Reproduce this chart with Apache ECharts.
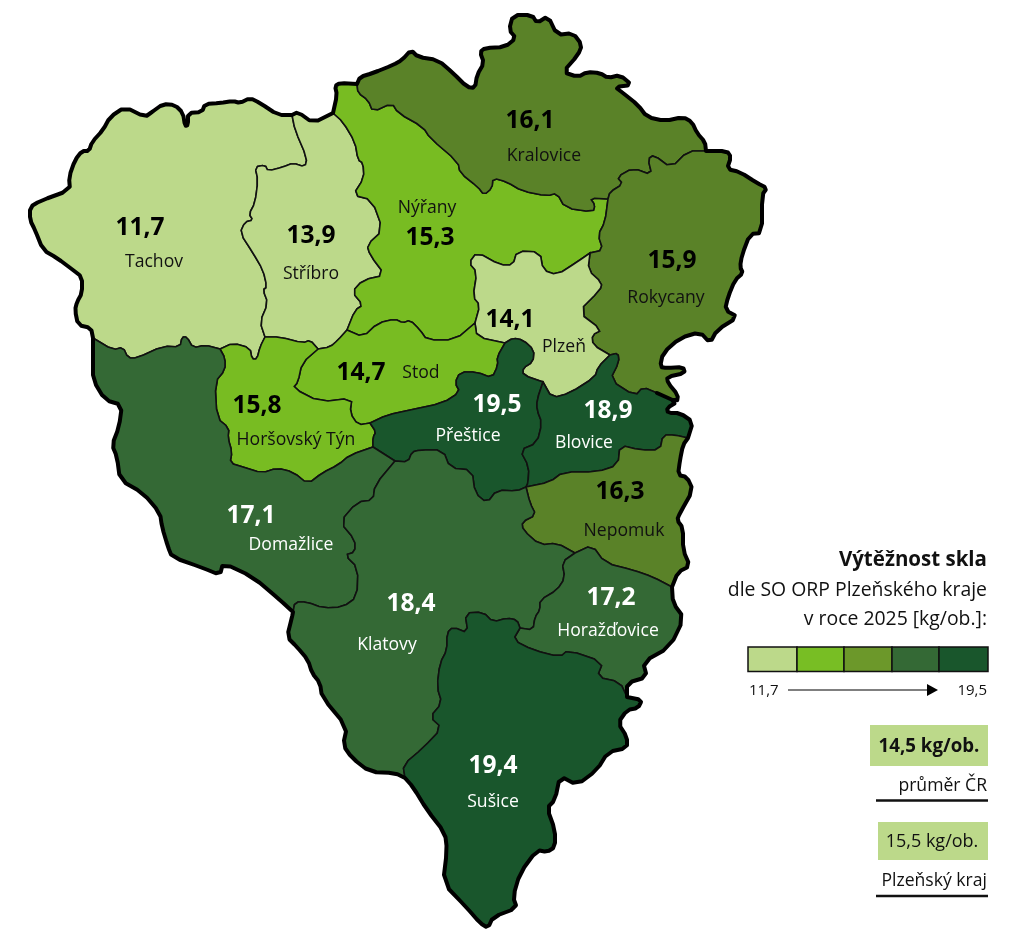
<!DOCTYPE html>
<html><head><meta charset="utf-8">
<style>html,body{margin:0;padding:0;background:#fff}#c{width:1024px;height:935px}</style>
<script src="https://cdn.jsdelivr.net/npm/echarts@6/dist/echarts.min.js"></script>
</head><body><div id="c"></div>
<script>
const regionNames = ['Tachov','Stříbro','Nýřany','Kralovice','Rokycany','Plzeň','Stod','Horšovský Týn','Přeštice','Blovice','Nepomuk','Domažlice','Klatovy','Horažďovice','Sušice'];
const regionValues = [11.7,13.9,15.3,16.1,15.9,14.1,14.7,15.8,19.5,18.9,16.3,17.1,18.4,17.2,19.4];
const legendColors = ['#BCD98A','#78BE24','#6C982A','#346935','#19562C'];
const mapColors = {light:'#BCD98A',bright:'#78BC22',olive:'#5A8228',mid:'#346935',dark:'#19562C'};
const titleLines = ['Výtěžnost skla','dle SO ORP Plzeňského kraje','v roce 2025 [kg/ob.]:'];
const scaleEnds = ['11,7','19,5'];
const refValues = ['14,5 kg/ob.','15,5 kg/ob.'];
const refNames = ['průměr ČR','Plzeňský kraj'];

// Label anchors (map coordinates)
const valueAnchors = [[140,228],[311,236],[430,238],[530,121],[672,261],[510,320],[361,373],[257,406],[497,405],[608,411],[620,492],[251,516],[411,604],[611,598],[493,766]];
const nameAnchors = [[154,262],[311,274],[427,208],[544,156],[666,298],[564,347],[421,373],[296,440],[468,436],[584,443],[624,531],[291,545],[387,645],[608,631],[493,802]];

const A = {
 oTach:[[93,338],[91,328],[78,325],[75,310],[77,302],[82,293],[82,277],[73,270],[57,258],[43,250],[35,230],[30,220],[30,207],[40,201],[70,190],[69,177],[75,160],[82,151],[89,151],[92,142],[103,130],[110,117],[125,107],[145,117],[152,112],[163,104],[175,105],[183,113],[185,126],[188,125],[188,113],[202,112],[205,104],[220,103],[233,101],[240,103],[250,98],[260,103],[278,115],[292,115]],
 oStr:[[292,115],[298,112],[313,123],[333,113]],
 oNyr:[[333,113],[337,95],[335,86],[340,83],[357,84]],
 oKra:[[357,84],[360,77],[373,73],[393,65],[402,60],[411,50],[418,57],[438,60],[453,73],[467,87],[475,88],[477,75],[484,63],[480,52],[485,48],[505,47],[516,38],[509,30],[513,15],[532,15],[537,23],[548,16],[557,35],[573,33],[582,45],[578,55],[563,72],[578,77],[587,72],[600,73],[608,78],[620,75],[632,85],[615,87],[623,93],[638,105],[647,117],[665,121],[683,117],[692,122],[697,133],[705,142],[706,151]],
 oRok:[[706,151],[727,151],[731,157],[727,169],[740,172],[757,183],[767,188],[762,195],[762,233],[750,234],[742,255],[740,267],[743,273],[735,280],[728,297],[725,310],[738,317],[717,330],[710,343],[700,332],[680,338],[663,353],[660,367],[667,368],[683,367],[685,373],[667,377],[668,383],[678,395],[677,402],[657,393]],
 oBlo:[[657,393],[677,402],[667,408],[668,413],[680,413],[693,422],[688,438]],
 oNep:[[688,438],[683,445],[680,460],[678,475],[687,477],[693,490],[680,513],[677,520],[683,528],[683,550],[690,566],[678,572],[672,587]],
 oHor:[[672,587],[673,603],[684,618],[670,647],[643,662],[647,677],[627,683],[627,697]],
 oSus:[[627,697],[642,700],[638,708],[627,710],[618,723],[627,737],[627,748],[608,752],[597,770],[577,785],[560,776],[555,800],[547,808],[555,830],[555,847],[547,852],[537,850],[520,873],[513,897],[517,908],[493,917],[488,928],[480,923],[467,908],[443,883],[447,850],[445,833],[427,810],[413,787],[405,778]],
 oKla:[[405,778],[395,773],[370,772],[352,758],[343,745],[347,727],[322,697],[320,683],[312,673],[308,660],[297,647],[287,637],[292,617],[293,612]],
 oDom:[[293,612],[280,600],[253,577],[223,563],[220,575],[203,568],[172,557],[168,547],[162,527],[160,513],[143,493],[120,480],[117,457],[112,445],[119,427],[122,405],[105,400],[93,380],[93,360],[93,338]],
 tachStr:[[292,115],[295,130],[307,158],[305,167],[293,163],[283,167],[268,171],[265,165],[255,167],[258,180],[255,203],[249,214],[253,220],[245,222],[240,233],[253,253],[263,270],[267,287],[263,290],[268,303],[260,322],[265,337]],
 tachHT:[[265,337],[260,347],[257,359],[252,359],[250,348],[233,343],[220,349]],
 tachDom:[[220,349],[205,345],[193,348],[187,337],[182,337],[180,347],[163,346],[137,358],[128,358],[123,347],[113,350],[93,338]],
 strNyr:[[333,113],[343,122],[355,142],[358,160],[363,163],[364,178],[353,195],[372,200],[383,230],[367,245],[370,255],[385,275],[363,280],[352,292],[363,305],[355,310],[347,330]],
 strStod:[[318,349],[330,347],[338,340],[347,330]],
 strHT:[[265,337],[280,337],[303,343],[310,340],[318,349]],
 nyrKra:[[357,84],[358,93],[368,100],[373,112],[392,103],[398,113],[423,127],[430,138],[458,162],[460,173],[478,187],[484,195],[492,188],[493,178],[507,182],[522,191],[547,196],[557,193],[565,208],[593,212],[595,205],[590,198],[608,199]],
 kraRok:[[608,199],[610,192],[623,184],[617,177],[633,168],[652,175],[648,159],[654,155],[671,168],[688,151],[706,151]],
 nyrRok:[[608,199],[605,222],[598,235],[603,250],[590,253]],
 nyrPlz:[[590,253],[577,262],[557,275],[543,270],[540,252],[517,251],[513,265],[500,265],[477,252],[469,263],[477,272],[473,297],[480,305],[475,323]],
 nyrStod:[[475,323],[455,340],[427,340],[420,330],[410,320],[403,323],[395,319],[378,323],[363,337],[347,330]],
 plzStod:[[475,323],[477,337],[505,343]],
 plzPre:[[505,343],[513,338],[523,340],[534,350],[533,362],[523,368],[523,375],[543,382]],
 plzBlo:[[543,382],[552,398],[570,393],[595,377],[598,367],[610,355]],
 plzRok:[[590,253],[588,270],[602,283],[600,290],[578,312],[602,330],[592,335],[593,345],[610,355]],
 rokBlo:[[610,355],[618,353],[619,362],[610,380],[635,396],[643,387],[657,393]],
 preStod:[[505,343],[497,357],[498,365],[492,378],[477,372],[460,372],[455,383],[460,392],[443,403],[410,410],[387,415],[370,423]],
 stodHT:[[318,349],[302,363],[298,382],[293,388],[320,402],[352,398],[350,413],[358,425],[370,423]],
 htPre:[[370,423],[376,432],[373,437],[373,447]],
 htDom:[[373,447],[350,455],[338,465],[322,473],[308,484],[293,472],[277,468],[262,473],[243,467],[230,463],[232,452],[228,438],[229,428],[217,418],[215,382],[225,370],[225,358],[220,349]],
 preDom:[[373,447],[395,461]],
 preKla:[[395,461],[408,462],[412,452],[420,450],[443,450],[450,468],[472,470],[475,493],[487,503],[497,490],[517,491],[526,487]],
 preBlo:[[543,382],[537,400],[537,410],[542,423],[537,443],[520,450],[529,467],[528,483],[526,487]],
 bloNep:[[526,487],[550,482],[563,472],[597,472],[618,465],[620,445],[640,450],[660,450],[663,435],[675,435],[688,438]],
 klaNep:[[526,487],[530,503],[536,515],[522,522],[523,530],[540,545],[557,543],[575,553]],
 nepHor:[[575,553],[592,545],[605,563],[633,570],[653,577],[672,587]],
 klaHor:[[575,553],[562,562],[565,578],[557,590],[540,600],[540,610],[535,617],[533,630],[520,628]],
 horSus:[[520,628],[513,640],[533,650],[560,657],[568,650],[603,662],[597,677],[620,682],[627,697]],
 klaSus:[[520,628],[517,620],[507,618],[493,622],[483,612],[465,613],[468,633],[453,627],[447,633],[447,650],[440,663],[437,687],[442,703],[430,717],[442,728],[423,748],[403,765],[405,778]],
 domKla:[[395,461],[375,485],[373,500],[357,502],[340,522],[355,540],[355,552],[345,555],[358,568],[357,597],[343,607],[323,608],[307,602],[295,602],[293,612]]
};
// Ring of each region: arc names, '-' = reversed
const rings = {
 'Tachov':['oTach','tachStr','tachHT','tachDom'],
 'Stříbro':['oStr','strNyr','-strStod','-strHT','-tachStr'],
 'Nýřany':['oNyr','nyrKra','nyrRok','nyrPlz','nyrStod','-strNyr'],
 'Kralovice':['oKra','-kraRok','-nyrKra'],
 'Rokycany':['oRok','-rokBlo','-plzRok','-nyrRok','kraRok'],
 'Plzeň':['plzRok','-plzBlo','-plzPre','-plzStod','-nyrPlz'],
 'Stod':['-nyrStod','plzStod','preStod','-stodHT','strStod'],
 'Horšovský Týn':['strHT','stodHT','htPre','htDom','-tachHT'],
 'Přeštice':['plzPre','preBlo','-preKla','-preDom','-htPre','-preStod'],
 'Blovice':['plzBlo','rokBlo','oBlo','-bloNep','-preBlo'],
 'Nepomuk':['bloNep','oNep','-nepHor','-klaNep'],
 'Domažlice':['-htDom','preDom','domKla','oDom','-tachDom'],
 'Klatovy':['preKla','klaNep','klaHor','klaSus','oKla','-domKla'],
 'Horažďovice':['nepHor','oHor','-horSus','-klaHor'],
 'Sušice':['horSus','oSus','-klaSus']
};
// Corner rounding of a border arc, end points stay shared
function round(p){
  const o=[p[0]];
  for(let i=0;i<p.length-1;i++){
    const a=p[i],b=p[i+1];
    if(i>0)o.push([a[0]*.75+b[0]*.25,a[1]*.75+b[1]*.25]);
    if(i<p.length-2)o.push([a[0]*.25+b[0]*.75,a[1]*.25+b[1]*.75]);
  }
  o.push(p[p.length-1]);return o;
}
const S={};Object.keys(A).forEach(k=>S[k]=round(A[k]).map(q=>[q[0],-q[1]]));
function ring(list){
  let r=[];
  list.forEach(n=>{
    const rev=n[0]==='-',pts=S[rev?n.slice(1):n];
    const seq=rev?pts.slice().reverse():pts;
    r=r.concat(r.length?seq.slice(1):seq);
  });
  if(r[0][0]!==r[r.length-1][0]||r[0][1]!==r[r.length-1][1])r.push(r[0]);
  return r;
}
const geojson={type:'FeatureCollection',features:regionNames.map(n=>({type:'Feature',properties:{name:n},geometry:{type:'Polygon',coordinates:[ring(rings[n])]}}))};
echarts.registerMap('orp',geojson);
const outline=ring(['oTach','oStr','oNyr','oKra','oRok','oBlo','oNep','oHor','oSus','oKla','oDom']);

const FONT='"Open Sans"';
const isDark=v=>v>=17;
const g=[];
const txt=(t,x,y,size,weight,align)=>g.push({type:'text',x,y,silent:true,style:{text:t,x:0,y:0,fill:'#111',font:(weight||'normal')+' '+size+'px '+FONT,textAlign:align||'right',textVerticalAlign:'middle'}});
txt(titleLines[0],987,560,20.5,'bold');
txt(titleLines[1],987,590,19.4);
txt(titleLines[2],987,619,19.4);
const cellX=[748,797,844,892,939,988];
legendColors.forEach((c,i)=>g.push({type:'rect',silent:true,shape:{x:cellX[i],y:647,width:cellX[i+1]-cellX[i],height:24.5},style:{fill:c,stroke:'#111',lineWidth:1.5}}));
txt(scaleEnds[0],749,691,15,'normal','left');
txt(scaleEnds[1],987,691,15);
g.push({type:'line',silent:true,shape:{x1:788,y1:690,x2:930,y2:690},style:{stroke:'#000',lineWidth:1.2}});
g.push({type:'polygon',silent:true,shape:{points:[[927,684],[938,690],[927,696]]},style:{fill:'#000'}});
g.push({type:'rect',silent:true,shape:{x:870,y:725,width:118,height:41},style:{fill:legendColors[0]}});
txt(refValues[0],929,747,18.7,'bold','center');
txt(refNames[0],987,786,17.6);
g.push({type:'line',silent:true,shape:{x1:876,y1:800.5,x2:988,y2:800.5},style:{stroke:'#111',lineWidth:2.5}});
g.push({type:'rect',silent:true,shape:{x:878,y:822,width:110,height:38},style:{fill:legendColors[0]}});
txt(refValues[1],932,842,18,'normal','center');
txt(refNames[1],987,881,17.6);
g.push({type:'line',silent:true,shape:{x1:876,y1:896,x2:988,y2:896},style:{stroke:'#111',lineWidth:2.5}});

const chart=echarts.init(document.getElementById('c'),null,{renderer:'canvas'});
chart.setOption({
  animation:false,backgroundColor:'#fff',
  graphic:{elements:g},
  geo:{map:'orp',roam:false,silent:true,aspectScale:1,left:0,top:0,width:1024,height:935,
    boundingCoords:[[0,0],[1024,-935]],
    label:{show:false},emphasis:{disabled:true},
    itemStyle:{borderColor:'#111',borderWidth:1.6,areaColor:'#ccc'}},
  visualMap:{show:false,type:'piecewise',seriesIndex:0,pieces:[
    {gte:11,lt:14.5,color:mapColors.light},{gte:14.5,lt:15.85,color:mapColors.bright},
    {gte:15.85,lt:17,color:mapColors.olive},{gte:17,lt:18.6,color:mapColors.mid},{gte:18.6,lte:20,color:mapColors.dark}]},
  series:[
    {type:'map',geoIndex:0,silent:true,data:regionNames.map((n,i)=>({name:n,value:regionValues[i]}))},
    {type:'lines',coordinateSystem:'geo',polyline:true,silent:true,z:5,
      lineStyle:{color:'#000',width:4,opacity:1,join:'round',cap:'round'},
      data:[{coords:outline}]},
    {type:'scatter',coordinateSystem:'geo',symbolSize:1,silent:true,z:6,itemStyle:{color:'transparent',opacity:1},
      data:regionNames.map((n,i)=>({value:[valueAnchors[i][0],-valueAnchors[i][1],regionValues[i]],
        label:{color:isDark(regionValues[i])?'#fff':'#000'}})),
      label:{show:true,position:'inside',fontFamily:FONT,fontWeight:'bold',fontSize:24.5,
        formatter:p=>p.value[2].toFixed(1).replace('.',',')}},
    {type:'scatter',coordinateSystem:'geo',symbolSize:1,silent:true,z:6,itemStyle:{color:'transparent',opacity:1},
      data:regionNames.map((n,i)=>({name:n,value:[nameAnchors[i][0],-nameAnchors[i][1]],
        label:{color:isDark(regionValues[i])?'#fff':'#111'}})),
      label:{show:true,position:'inside',fontFamily:FONT,fontSize:17.6,formatter:p=>p.name}}
  ]
});
</script></body></html>
